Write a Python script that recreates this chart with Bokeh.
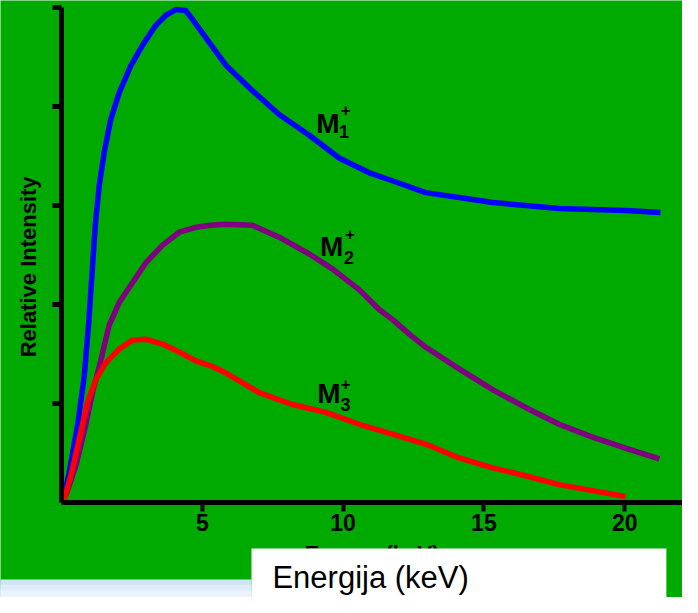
import math
from bokeh.plotting import figure
from bokeh.models import (Range1d, FixedTicker, BoxAnnotation, Label, ColumnDataSource,
                          LinearAxis)
from bokeh.core.properties import value
from bokeh.embed import file_html
from bokeh.resources import INLINE

# ---- data (energy in keV, relative intensity in y-tick units) ----
m1_x = [0.10, 0.27, 0.57, 0.81, 0.96, 1.08, 1.20, 1.34, 1.52, 1.75, 2.05, 2.46, 2.88, 3.35,
        3.70, 4.06, 4.41, 4.65, 5.24, 5.83, 6.78, 7.73, 8.80, 9.86, 10.93, 11.75, 12.93,
        14.12, 15.31, 16.48, 17.67, 18.86, 20.03, 21.27]
m1_y = [0.07, 0.30, 0.78, 1.28, 1.79, 2.29, 2.80, 3.20, 3.54, 3.87, 4.14, 4.41, 4.62, 4.82,
        4.92, 4.98, 4.97, 4.88, 4.65, 4.42, 4.16, 3.92, 3.71, 3.48, 3.33, 3.25, 3.13,
        3.08, 3.03, 3.00, 2.97, 2.96, 2.95, 2.93]

m2_x = [0.15, 0.51, 0.86, 1.10, 1.40, 1.69, 2.05, 2.52, 2.99, 3.59, 4.18, 4.77, 5.30, 5.83,
        6.78, 7.73, 8.80, 9.62, 10.57, 11.28, 11.75, 12.35, 12.93, 14.12, 15.31, 16.48,
        17.67, 18.86, 20.03, 21.23]
m2_y = [0.07, 0.37, 0.78, 1.11, 1.44, 1.79, 2.02, 2.22, 2.42, 2.60, 2.73, 2.78, 2.80, 2.81,
        2.80, 2.68, 2.51, 2.36, 2.15, 1.95, 1.85, 1.70, 1.57, 1.35, 1.14, 0.96,
        0.79, 0.66, 0.55, 0.44]

m3_x = [0.10, 0.33, 0.63, 0.92, 1.22, 1.57, 2.05, 2.52, 2.99, 3.59, 4.18, 4.77, 5.30, 5.83,
        7.02, 8.20, 9.39, 10.57, 11.75, 12.93, 14.12, 15.31, 16.48, 17.67, 18.86, 20.03]
m3_y = [0.03, 0.27, 0.64, 1.01, 1.24, 1.41, 1.55, 1.64, 1.65, 1.60, 1.52, 1.43, 1.38, 1.31,
        1.11, 0.99, 0.91, 0.79, 0.69, 0.59, 0.45, 0.35, 0.27, 0.18, 0.12, 0.06]

x_ticks = [5, 10, 15, 20]
y_ticks = [1, 2, 3, 4, 5]

series_names = ["M", "M", "M"]
series_subs = ["1", "2", "3"]
series_sups = ["+", "+", "+"]

x_title = "Energy (keV)"
y_title = "Relative Intensity"
overlay_title = "Energija (keV)"

# ---- layout / style constants ----
GREEN = "#00aa00"
FONT = "Liberation Sans"
X_MAX = 22.05
Y_MAX = 5.0
name_pos_x = [9.46, 9.59, 9.50]
name_pos_y = [3.83, 2.59, 1.10]
sub_pos_x = [10.03, 10.21, 10.09]
sub_pos_y = [3.75, 2.47, 0.99]
sup_pos_x = [10.09, 10.24, 10.09]
sup_pos_y = [3.96, 2.71, 1.20]

# frame covers the whole canvas; axes are pinned at the data origin
p = figure(width=682, height=597, title=None,
           x_range=Range1d(-2.166, 22.053), y_range=Range1d(-0.960, 5.071),
           x_axis_location=None, y_axis_location=None,
           output_backend="svg", toolbar_location=None, min_border=0,
           background_fill_color=GREEN, border_fill_color=GREEN, outline_line_color=None)
p.grid.visible = False

xaxis = LinearAxis(fixed_location=0, bounds=(0, X_MAX), ticker=FixedTicker(ticks=x_ticks))
yaxis = LinearAxis(fixed_location=0, bounds=(0, Y_MAX), ticker=FixedTicker(ticks=y_ticks))
for ax in (xaxis, yaxis):
    ax.axis_line_color = "black"
    ax.axis_line_width = 5
    ax.major_tick_line_color = "black"
    ax.major_tick_in = 0
    ax.major_tick_out = 9
    ax.minor_tick_line_color = None

xaxis.major_tick_line_width = 4
xaxis.major_label_text_font = FONT
xaxis.major_label_text_font_style = "bold"
xaxis.major_label_text_font_size = "23px"
xaxis.major_label_text_color = "black"
xaxis.major_label_standoff = 3
xaxis.axis_label = x_title
xaxis.axis_label_text_font = FONT
xaxis.axis_label_text_font_style = "bold"
xaxis.axis_label_text_font_size = "22px"
xaxis.axis_label_text_color = "black"
xaxis.axis_label_standoff = 6

yaxis.major_tick_line_width = 5
yaxis.major_label_text_color = None

p.add_layout(xaxis, "below")
p.add_layout(yaxis, "left")

# y title as rotated label
p.add_layout(Label(x=-1.17, y=2.38, text=y_title, angle=math.pi / 2,
                   text_font=FONT, text_font_style="bold", text_font_size="22px",
                   text_color="black", text_align="center", text_baseline="middle"))

# curves
p.line(m1_x, m1_y, line_color="#0000ff", line_width=5.5, line_join="round")
p.line(m2_x, m2_y, line_color="#800080", line_width=5.5, line_join="round")
p.line(m3_x, m3_y, line_color="#ff0000", line_width=5.5, line_join="round")

# curve labels
src_n = ColumnDataSource(dict(x=name_pos_x, y=name_pos_y, t=series_names))
src_s = ColumnDataSource(dict(x=sub_pos_x, y=sub_pos_y, t=series_subs))
src_p = ColumnDataSource(dict(x=sup_pos_x, y=sup_pos_y, t=series_sups))
p.text(x="x", y="y", text="t", source=src_n, text_font=value(FONT),
       text_font_style="bold", text_font_size="28px", text_color="black",
       text_align="center", text_baseline="middle")
p.text(x="x", y="y", text="t", source=src_s, text_font=value(FONT),
       text_font_style="bold", text_font_size="18px", text_color="black",
       text_align="center", text_baseline="middle")
p.text(x="x", y="y", text="t", source=src_p, text_font=value(FONT),
       text_font_style="bold", text_font_size="17px", text_color="black",
       text_align="center", text_baseline="middle")

# white overlay box with translated title, and pale strip at the lower left
p.add_layout(BoxAnnotation(left=6.747, right=21.48, top=-0.465, bottom=-1.3,
                           fill_color="white", fill_alpha=1.0, line_color=None,
                           level="overlay"))
band_colors = ["#cfe5f6", "#deedf9", "#ebf4fb", "#f4f8fc", "#fafbfd"]
band_tops = [-0.778, -0.83, -0.89, -0.95, -1.02]
for top, c in zip(band_tops, band_colors):
    p.add_layout(BoxAnnotation(left=-3.0, right=6.747, top=top, bottom=-1.3,
                               fill_color=c, fill_alpha=1.0, line_color=None, level="overlay"))
p.add_layout(Label(x=7.49, y=-0.753, text=overlay_title, text_font=FONT,
                   text_font_size="31px", text_color="black", text_baseline="middle",
                   level="overlay"))

open("out.html", "w").write(file_html(p, INLINE))
